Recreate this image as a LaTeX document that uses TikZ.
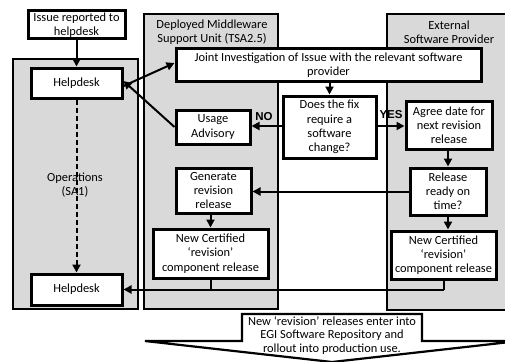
\documentclass[tikz,border=0pt]{standalone}
\usepackage{fontspec}
\setmainfont{Carlito}
\newfontfamily\lblfont{Liberation Sans}
\usetikzlibrary{arrows.meta}
\definecolor{panelgray}{HTML}{D9D9D9}
\tikzset{
  panel/.style={draw=black, fill=panelgray, line width=2.2pt},
  box/.style={draw=black, fill=white, line width=3pt, align=center, inner sep=0pt,
    font=\fontsize{12.4}{14.2}\selectfont},
  lbl/.style={align=center, font=\fontsize{12.4}{14.2}\selectfont, inner sep=0pt},
  yn/.style={font=\lblfont\bfseries\fontsize{11.5}{12}\selectfont, inner sep=0pt},
  conn/.style={line width=2pt, -{Triangle[length=8pt,width=8pt]}},
  plain/.style={line width=2pt},
}
\begin{document}
\begin{tikzpicture}[x=1pt,y=-1pt]
\useasboundingbox (0,0) rectangle (505,361);
\clip (0,0) rectangle (505,361);
% panels
\path[panel] (13,59) rectangle (138,309);
\path[panel] (144,14) rectangle (278,309);
\path[panel] (387,14) rectangle (530,310);
% panel titles
\node[lbl] (opst) at (75,185) {Operations\\(SA1)};
\node[lbl] (mwt) at (212,32) {Deployed Middleware\\Support Unit (TSA2.5)};
\node[lbl] (ext) at (449,32) {External\\Software Provider};
% boxes
\node[box, minimum width=97pt, minimum height=28pt] (issue) at (76.5,25) {Issue reported to\\helpdesk};
\node[box, minimum width=91pt, minimum height=30pt] (help1) at (76.5,83) {Helpdesk};
\node[box, minimum width=91pt, minimum height=31pt] (help2) at (76.5,289.5) {Helpdesk};
\node[box, minimum width=305pt, minimum height=32pt] (joint) at (328.5,65) {Joint Investigation of Issue with the relevant software\\provider};
\node[box, minimum width=93pt, minimum height=62pt] (fix) at (329.5,127) {Does the fix\\require a\\software\\change?};
\node[box, minimum width=74pt, minimum height=34pt] (usage) at (213,127) {Usage\\Advisory};
\node[box, minimum width=75pt, minimum height=45pt] (gen) at (213.5,190.5) {Generate\\revision\\release};
\node[box, minimum width=115pt, minimum height=49pt] (certL) at (210.5,253.5) {New Certified\\‘revision’\\component release};
\node[box, minimum width=86pt, minimum height=48pt] (agree) at (449,125) {Agree date for\\next revision\\release};
\node[box, minimum width=76pt, minimum height=47pt] (rel) at (448,191.5) {Release\\ready on\\time?};
\node[box, minimum width=105pt, minimum height=48pt] (certR) at (443.5,255) {New Certified\\‘revision’\\component release};
% labels
\node[yn] (no) at (264,117) {NO};
\node[yn] (yes) at (391,115) {YES};
% connectors
\draw[conn] (issue.south) -- (help1.north);
\draw[conn, dash pattern=on 5pt off 3pt] (help1.south) -- (help2.north);
\draw[conn] ([yshift=-3pt]help1.east) -- ([yshift=2pt]joint.west);
\draw[conn] (usage.west) -- ([yshift=2pt]help1.east);
\draw[conn] (joint.south -| fix.north) -- (fix.north);
\draw[conn] ([yshift=1pt]fix.west) -- ([yshift=1pt]fix.west -| usage.east);
\draw[conn] ([yshift=1pt]fix.east) -- ([yshift=1pt]fix.east -| agree.west);
\draw[conn] (agree.south -| rel.north) -- (rel.north);
\draw[conn] (rel.south) -- (rel.south |- certR.north);
\draw[conn] (rel.west) -- (rel.west -| gen.east);
\draw[conn] (gen.south -| certL.north) -- (certL.north);
\coordinate (jL) at (certL.south |- help2.east);
\coordinate (jR) at (certR.south |- help2.east);
\draw[plain] (certL.south) -- (jL);
\draw[plain] (certR.south) -- (jR);
\draw[conn] (jR) -- (help2.east);
% callout
\draw[line width=2.2pt, fill=white, line join=miter] (242,314) -- (422,314) -- (422,341) -- (519,341) -- (332,362) -- (145,341) -- (242,341) -- cycle;
\node[lbl, font=\fontsize{12.4}{13.4}\selectfont] (callout) at (332,335.5) {New ‘revision’ releases enter into\\EGI Software Repository and\\rollout into production use.};
\end{tikzpicture}
\end{document}
